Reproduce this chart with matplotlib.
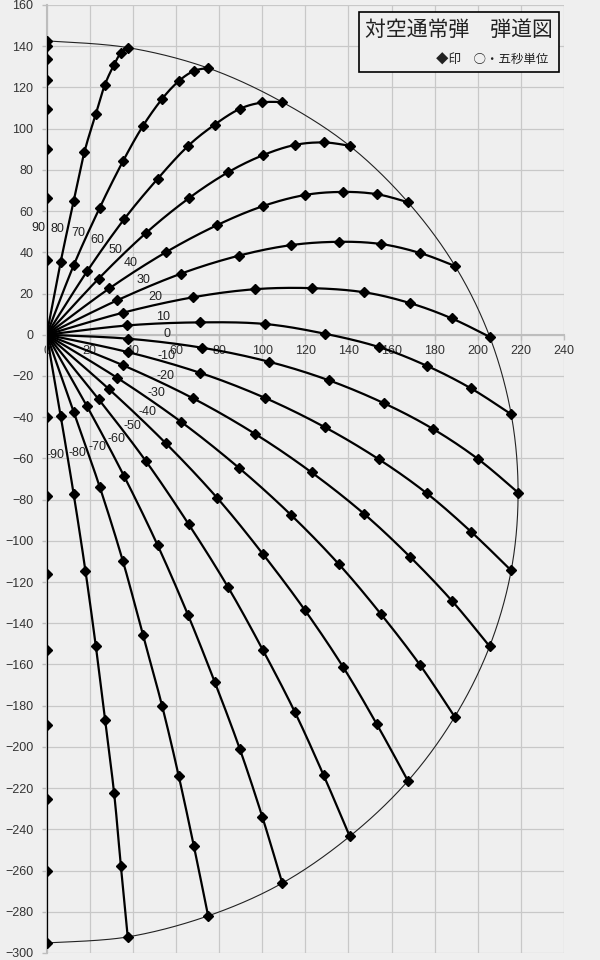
import numpy as np
import matplotlib
matplotlib.use("Agg")
import matplotlib.pyplot as plt
from matplotlib.patches import Rectangle

# ---------------- data (points every 5 s, origin added in code) ----------------
angles = [90, 80, 70, 60, 50, 40, 30, 20, 10, 0, -10, -20, -30, -40, -50, -60, -70, -80, -90]

x_p90 = [0, 0, 0, 0, 0, 0, 0, 0]
y_p90 = [36.2, 66.2, 90.0, 109.5, 123.6, 133.8, 140.3, 142.6]
x_p80 = [6.5, 12.5, 17.5, 22.8, 26.9, 31.1, 34.5, 37.8]
y_p80 = [35.4, 64.7, 88.6, 107.1, 121.0, 130.7, 136.9, 139.3]
x_p70 = [12.5, 24.6, 35.4, 44.6, 53.6, 61.3, 68.3, 74.9]
y_p70 = [33.6, 61.6, 84.2, 101.2, 114.5, 123.1, 128.0, 129.4]
x_p60 = [18.7, 35.9, 51.5, 65.5, 78.0, 89.6, 100.0, 109.3]
y_p60 = [30.7, 56.0, 75.7, 91.5, 102.0, 109.6, 112.7, 112.9]
x_p50 = [24.1, 46.0, 65.9, 84.1, 100.3, 115.2, 128.7, 140.5]
y_p50 = [27.2, 49.3, 66.2, 78.8, 87.1, 92.1, 93.3, 91.7]
x_p40 = [29.1, 55.4, 79.1, 100.3, 119.8, 137.3, 153.2, 167.6]
y_p40 = [22.5, 40.1, 53.2, 62.4, 67.8, 69.3, 68.2, 64.3]
x_p30 = [32.7, 62.5, 89.3, 113.5, 135.7, 155.2, 173.4, 189.5]
y_p30 = [16.7, 29.7, 38.4, 43.5, 45.1, 44.0, 39.6, 33.3]
x_p20 = [35.4, 68.0, 96.8, 123.1, 147.3, 168.7, 188.0, 205.6]
y_p20 = [10.7, 18.2, 22.1, 22.6, 20.6, 15.3, 7.9, -1.1]
x_p10 = [37.3, 71.2, 101.4, 129.0, 154.2, 176.4, 196.8, 215.5]
y_p10 = [4.5, 6.0, 5.2, 0.5, -6.0, -15.1, -26.0, -38.6]
x_0 = [37.6, 72.1, 103.1, 130.9, 156.6, 179.2, 200.1, 218.7]
y_0 = [-1.9, -6.3, -13.1, -22.1, -33.3, -45.7, -60.3, -76.6]
x_m10 = [37.6, 71.2, 101.4, 129.1, 154.2, 176.4, 196.8, 215.5]
y_m10 = [-8.4, -18.5, -30.7, -44.9, -60.5, -77.0, -95.5, -114.4]
x_m20 = [35.4, 67.8, 96.8, 122.9, 147.1, 168.5, 188.0, 205.5]
y_m20 = [-14.8, -30.8, -48.2, -66.8, -86.8, -107.7, -129.1, -151.2]
x_m30 = [32.7, 62.4, 89.3, 113.3, 135.6, 155.1, 173.3, 189.3]
y_m30 = [-20.9, -42.3, -64.7, -87.4, -111.4, -135.6, -160.4, -185.4]
x_m40 = [28.9, 55.3, 79.1, 100.3, 119.7, 137.5, 153.1, 167.6]
y_m40 = [-26.4, -52.7, -79.2, -106.4, -133.5, -161.2, -188.9, -216.5]
x_m50 = [24.1, 46.0, 65.9, 84.2, 100.3, 115.1, 128.5, 140.6]
y_m50 = [-31.3, -61.3, -92.0, -122.6, -153.0, -183.0, -213.8, -243.4]
x_m60 = [18.7, 35.9, 51.5, 65.5, 78.0, 89.6, 100.0, 109.3]
y_m60 = [-34.7, -68.6, -102.2, -135.8, -168.6, -201.0, -233.8, -266.1]
x_m70 = [12.5, 24.6, 35.4, 44.6, 53.6, 61.3, 68.3, 74.9]
y_m70 = [-37.3, -73.8, -110.0, -145.5, -180.3, -214.3, -248.2, -282.0]
x_m80 = [6.5, 12.5, 18.0, 22.8, 27.1, 31.3, 34.4, 37.6]
y_m80 = [-39.4, -77.2, -114.7, -151.1, -187.1, -222.6, -257.6, -292.2]
x_m90 = [0, 0, 0, 0, 0, 0, 0, 0]
y_m90 = [-40.1, -78.2, -116.1, -152.9, -189.5, -225.5, -260.4, -295.1]

series_x = [x_p90, x_p80, x_p70, x_p60, x_p50, x_p40, x_p30, x_p20, x_p10, x_0,
            x_m10, x_m20, x_m30, x_m40, x_m50, x_m60, x_m70, x_m80, x_m90]
series_y = [y_p90, y_p80, y_p70, y_p60, y_p50, y_p40, y_p30, y_p20, y_p10, y_0,
            y_m10, y_m20, y_m30, y_m40, y_m50, y_m60, y_m70, y_m80, y_m90]

angle_labels = [str(a) for a in angles]
# label anchor positions (layout)
label_pos_x = [-3.9, 4.9, 14.9, 23.7, 31.9, 39.1, 45.0, 50.2, 54.2, 56.0,
               55.7, 55.3, 50.9, 46.7, 39.9, 32.3, 23.5, 14.4, 4.2]
label_pos_y = [52.0, 51.3, 49.5, 46.0, 41.1, 34.7, 26.6, 18.5, 8.8, 0.5,
               -10.2, -19.9, -28.4, -37.3, -44.3, -50.4, -54.3, -57.2, -58.5]

x_ticks = list(range(0, 241, 20))
y_ticks = list(range(-300, 161, 20))

title_text = "対空通常弾　弾道図"
note_text = "◆印　○・五秒単位"


def smooth(xs, ys, n=24):
    """Catmull-Rom smoothing (similar to Excel's smoothed lines)."""
    P = np.column_stack([xs, ys]).astype(float)
    if len(P) < 3:
        return P[:, 0], P[:, 1]
    Q = np.vstack([P[0], P, P[-1]])
    out = []
    t = np.linspace(0, 1, n, endpoint=False)[:, None]
    for i in range(1, len(Q) - 2):
        p0, p1, p2, p3 = Q[i - 1], Q[i], Q[i + 1], Q[i + 2]
        m1 = (p2 - p0) / 2.0
        m2 = (p3 - p1) / 2.0
        h00 = 2 * t**3 - 3 * t**2 + 1
        h10 = t**3 - 2 * t**2 + t
        h01 = -2 * t**3 + 3 * t**2
        h11 = t**3 - t**2
        out.append(h00 * p1 + h10 * m1 + h01 * p2 + h11 * m2)
    out.append(P[-1][None, :])
    S = np.vstack(out)
    return S[:, 0], S[:, 1]


bg = "#efefef"
fig = plt.figure(figsize=(6, 9.6), dpi=100, facecolor=bg)
ax = fig.add_axes([0.0778, 0.0073, 0.8622, 0.9875], facecolor=bg)
ax.set_xlim(0, 240)
ax.set_ylim(-300, 160)
ax.set_xticks(x_ticks)
ax.set_yticks(y_ticks)
ax.grid(True, color="#c8c8c8", lw=0.9, zorder=0)
ax.set_axisbelow(True)

for s in ("top", "right"):
    ax.spines[s].set_visible(False)
ax.spines["bottom"].set_position(("data", 0))
ax.spines["bottom"].set_color("#bdbdbd")
ax.spines["bottom"].set_linewidth(1.5)
ax.spines["left"].set_color("#bdbdbd")
ax.spines["left"].set_linewidth(1.5)
ax.tick_params(axis="both", direction="out", length=3.5, width=1, color="#bdbdbd",
               labelcolor="#333333", labelsize=9)
ax.tick_params(axis="x", pad=4)
ax.tick_params(axis="y", pad=6)
for lab in ax.get_xticklabels() + ax.get_yticklabels():
    lab.set_fontfamily("Liberation Sans")

# trajectories
for xs, ys in zip(series_x, series_y):
    X = [0.0] + list(xs)
    Y = [0.0] + list(ys)
    sx, sy = smooth(X, Y)
    ax.plot(sx, sy, color="black", lw=1.6, zorder=3, solid_capstyle="round")
    ax.plot(X, Y, linestyle="none", marker="D", markersize=5, color="black", zorder=4)

# envelope through final points
env_x = [xs[-1] for xs in series_x]
env_y = [ys[-1] for ys in series_y]
ex, ey = smooth(env_x, env_y)
ax.plot(ex, ey, color="#222222", lw=0.8, zorder=2)

# angle labels
for lab, lx, ly in zip(angle_labels, label_pos_x, label_pos_y):
    ax.text(lx, ly, lab, ha="center", va="center", fontsize=9, color="#222222",
            family="Liberation Sans", zorder=5)

# title box
fig.patches.append(Rectangle((0.5988, 0.9247), 0.3323, 0.0625, transform=fig.transFigure,
                             facecolor=bg, edgecolor="black", lw=1.2, zorder=5))
fig.text(0.765, 0.9685, title_text, ha="center", va="center", fontsize=15,
         family=["Noto Sans CJK JP", "DejaVu Sans"], color="#222222", zorder=6)
fig.text(0.9133, 0.9375, note_text, ha="right", va="center", fontsize=9,
         family=["Noto Sans CJK JP", "DejaVu Sans"], color="#222222", zorder=6)

fig.savefig("out.png", dpi=100, facecolor=bg)
